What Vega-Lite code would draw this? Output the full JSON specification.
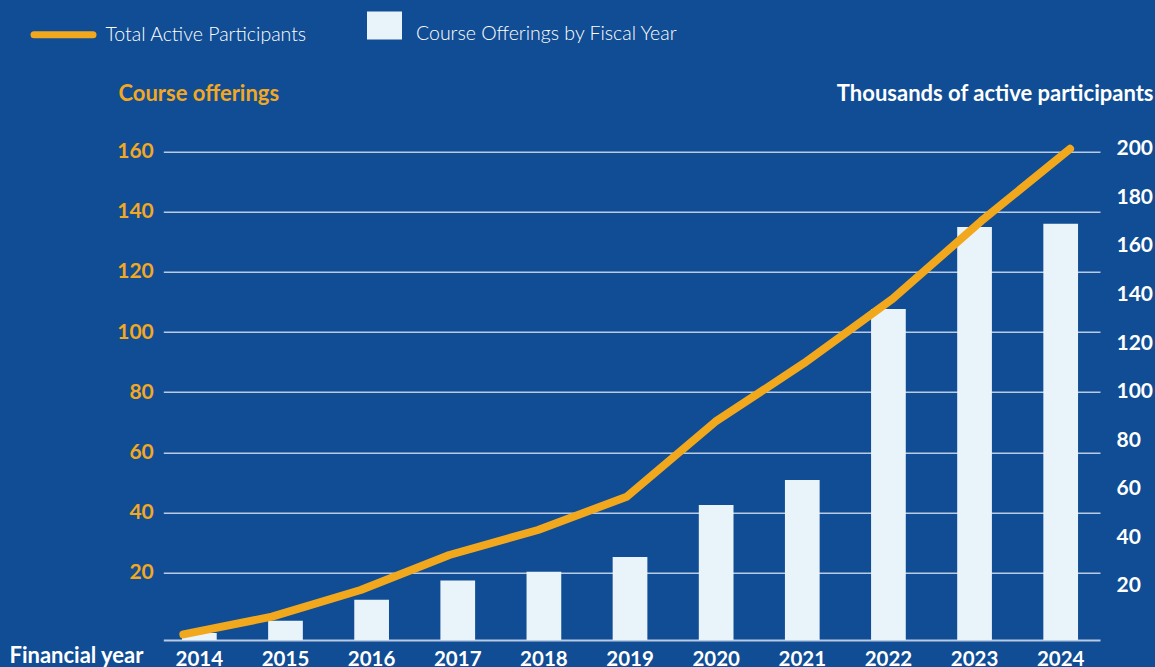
{
  "$schema": "https://vega.github.io/schema/vega-lite/v6.json",
  "width": 936.7,
  "height": 491.2,
  "autosize": {"type": "none"},
  "padding": {"left": 163.3, "top": 148.8, "right": 55, "bottom": 27},
  "background": "#104d94",
  "config": {
    "font": "Lato",
    "view": {"stroke": null},
    "legend": {"labelFont": "Lato", "labelFontWeight": 300, "labelColor": "#ffffff", "labelFontSize": 19.5, "labelLimit": 500, "padding": 0, "offset": 0}
  },
  "data": {
    "values": [
      {"year": 2014, "courses": 0, "participants": 0},
      {"year": 2015, "courses": 4, "participants": 7.3},
      {"year": 2016, "courses": 11, "participants": 18.3},
      {"year": 2017, "courses": 17.4, "participants": 32.7},
      {"year": 2018, "courses": 20.3, "participants": 43},
      {"year": 2019, "courses": 25.2, "participants": 56.7},
      {"year": 2020, "courses": 42.5, "participants": 87.6},
      {"year": 2021, "courses": 50.8, "participants": 111.7},
      {"year": 2022, "courses": 107.7, "participants": 138.2},
      {"year": 2023, "courses": 135, "participants": 170.3},
      {"year": 2024, "courses": 136, "participants": 200}
    ]
  },
  "layer": [
    {
      "mark": {"type": "bar"},
      "encoding": {
        "x": {
          "field": "year", "type": "ordinal",
          "scale": {"paddingInner": 0.597, "paddingOuter": 0.236, "align": 0.46},
          "axis": {
            "labelAngle": 0, "labelColor": "#ffffff", "labelFont": "Lato", "labelFontWeight": "bold", "labelFontSize": 20.5,
            "labelPadding": 25, "labelBaseline": "alphabetic", "ticks": false, "domain": true, "domainColor": "#b9cbe2", "domainWidth": 2,
            "grid": false,
            "title": "Financial year", "titleColor": "#ffffff", "titleFont": "Lato", "titleFontWeight": "bold", "titleFontSize": 22,
            "titleX": -20.3, "titleY": 22, "titleAlign": "right", "titleBaseline": "alphabetic", "titleAnchor": null
          }
        },
        "y": {
          "field": "courses", "type": "quantitative",
          "scale": {"domain": [-2.36, 160.96], "nice": false, "zero": false},
          "axis": {
            "values": [20, 40, 60, 80, 100, 120, 140, 160],
            "grid": true, "gridColor": "#b9cbe2", "gridWidth": 1.5, "domain": false, "ticks": false,
            "labelColor": "#f2a823", "labelFont": "Lato", "labelFontWeight": "bold", "labelFontSize": 21, "labelPadding": 10,
            "title": "Course offerings", "titleColor": "#f2a823", "titleFont": "Lato", "titleFontWeight": "bold", "titleFontSize": 22,
            "titleAngle": 0, "titleX": -45.3, "titleY": -55.8, "titleAlign": "left", "titleBaseline": "middle"
          }
        },
        "y2": {"datum": -2.36},
        "fill": {
          "datum": "Course Offerings by Fiscal Year",
          "scale": {"range": ["#e8f4fa"]},
          "legend": {
            "title": null, "orient": "none", "legendX": 203.7, "legendY": -132.8,
            "symbolType": "M-1,-1.257H1V0.343H-1Z", "symbolSize": 1225, "symbolOpacity": 1, "symbolStrokeWidth": 0,
            "labelOffset": 14
          }
        }
      }
    },
    {
      "mark": {"type": "line", "strokeWidth": 8, "strokeCap": "round", "strokeJoin": "round"},
      "encoding": {
        "x": {
          "field": "year", "type": "quantitative",
          "scale": {"domain": [2013.774, 2024.338], "nice": false, "zero": false},
          "axis": null
        },
        "y": {
          "field": "participants", "type": "quantitative",
          "scale": {"domain": [-2.31, 200], "nice": false, "zero": false},
          "axis": {
            "orient": "right",
            "values": [20, 40, 60, 80, 100, 120, 140, 160, 180, 200],
            "grid": false, "domain": false, "ticks": false,
            "labelColor": "#ffffff", "labelFont": "Lato", "labelFontWeight": "bold", "labelFontSize": 21, "labelPadding": 16,
            "title": "Thousands of active participants", "titleColor": "#ffffff", "titleFont": "Lato", "titleFontWeight": "bold", "titleFontSize": 22,
            "titleAngle": 0, "titleX": 53, "titleY": -55.8, "titleAlign": "right", "titleBaseline": "middle"
          }
        },
        "stroke": {
          "datum": "Total Active Participants",
          "scale": {"range": ["#f2a81d"]},
          "legend": {
            "title": null, "orient": "none", "legendX": -132.8, "legendY": -147,
            "symbolType": "stroke", "symbolSize": 3481, "symbolStrokeWidth": 7,
            "labelOffset": 9,
            "encode": {"symbols": {"update": {"strokeCap": {"value": "round"}}}}
          }
        }
      }
    }
  ],
  "resolve": {"scale": {"x": "independent", "y": "independent"}}
}
